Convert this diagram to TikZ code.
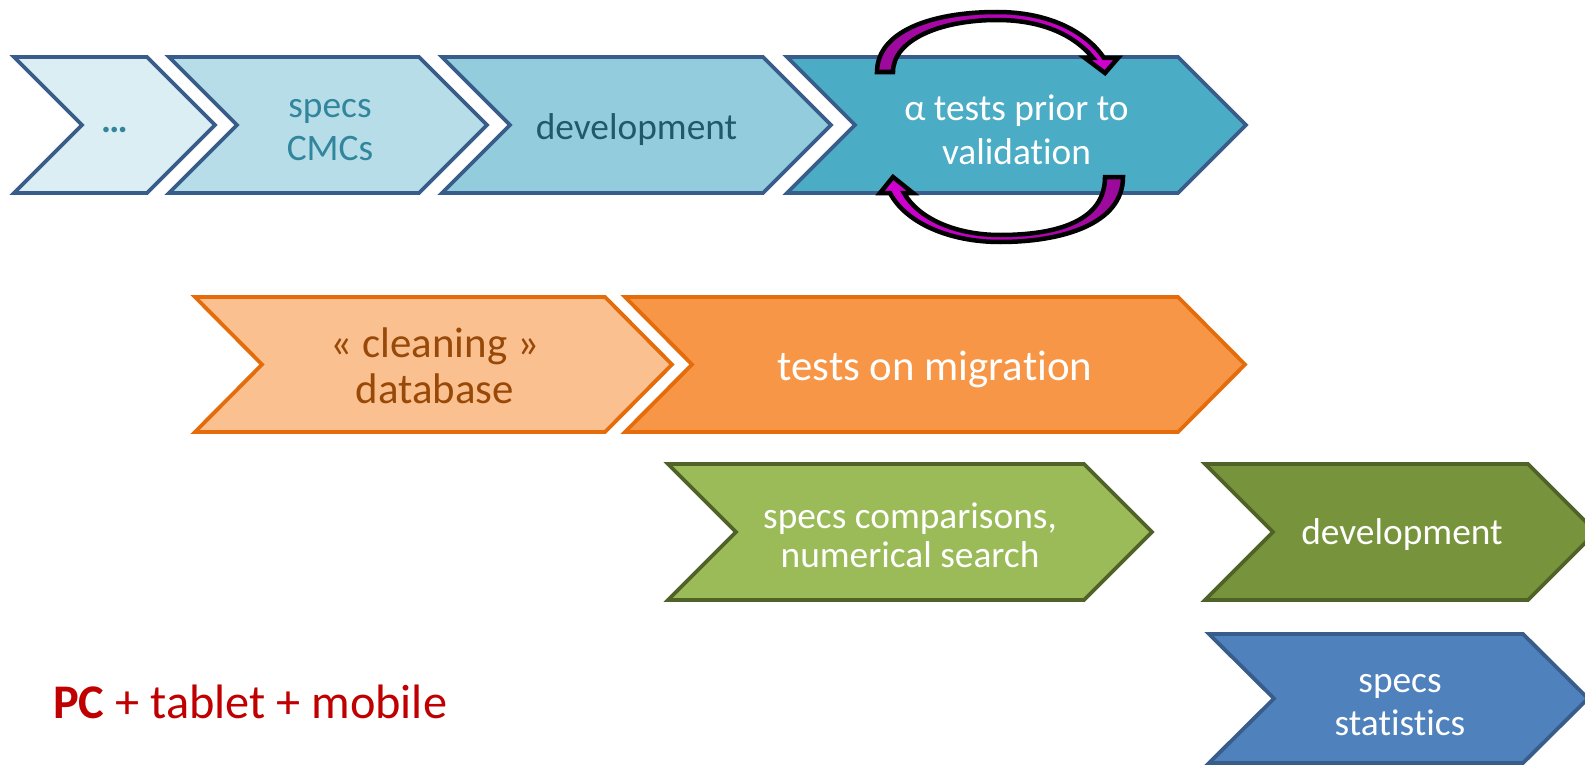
\documentclass[tikz,border=0pt]{standalone}
\usepackage{fontspec}
\setmainfont[Ligatures={NoCommon}]{Carlito}
\definecolor{bordblue}{HTML}{385D8A}
\definecolor{c1fill}{HTML}{DAEEF3}
\definecolor{c2fill}{HTML}{B7DEE8}
\definecolor{c3fill}{HTML}{93CDDD}
\definecolor{c4fill}{HTML}{4BACC6}
\definecolor{tealtext}{HTML}{31859C}
\definecolor{darkteal}{HTML}{215968}
\definecolor{ordraw}{HTML}{E46C0A}
\definecolor{or1fill}{HTML}{FAC090}
\definecolor{or2fill}{HTML}{F79646}
\definecolor{brown}{HTML}{984807}
\definecolor{grdraw}{HTML}{4F6228}
\definecolor{gr1fill}{HTML}{9BBB59}
\definecolor{gr2fill}{HTML}{77933C}
\definecolor{blfill}{HTML}{4F81BD}
\definecolor{pcred}{HTML}{C00000}
\definecolor{magdark}{HTML}{9A0A9A}
\definecolor{maglight}{HTML}{D200D2}
\newcommand{\chevshape}[6]{%
  \draw[#1] (#2,#4) -- (#3,#4) -- ({#3+#6},{(#4+#5)/2}) -- (#3,#5) -- (#2,#5) -- ({#2+#6},{(#4+#5)/2}) -- cycle;}
\begin{document}
\begin{tikzpicture}[x=1bp,y=-1bp,
  chev/.style={line width=3.8bp, line join=miter},
  bluechev/.style={chev, draw=bordblue},
  orchev/.style={chev, draw=ordraw},
  grchev/.style={chev, draw=grdraw},
  lbl/.style={inner sep=0pt, align=center, font=\fontsize{37.5}{44}\selectfont},
  biglbl/.style={inner sep=0pt, align=center, font=\fontsize{43}{46}\selectfont},
  looparrow/.style={draw=black, line width=4.5bp, line join=miter}]
\clip (0,0) rectangle (1585,768);
\fill[white] (0,0) rectangle (1585,768);
% row 1
\chevshape{bluechev, fill=c1fill}{14}{147}{57}{193}{68}
\chevshape{bluechev, fill=c2fill}{169}{419}{57}{193}{68}
\chevshape{bluechev, fill=c3fill}{442}{763}{57}{193}{68}
\chevshape{bluechev, fill=c4fill}{787}{1178}{57}{193}{68}
\node[lbl, text=tealtext] (dots) at (114.5,130) {\textbf{…}};
\node[lbl, text=tealtext] (cmc) at (330,130) {specs\\CMCs};
\node[lbl, text=darkteal] (dev1) at (636.5,130) {development};
\node[lbl, text=white] (alpha) at (1016.5,130) {α tests prior to\\validation};
% row 2
\chevshape{orchev, fill=or1fill}{195}{605}{297}{432}{67}
\chevshape{orchev, fill=or2fill}{625}{1178}{297}{432}{67}
\node[biglbl, text=brown] (clean) at (435,366) {« cleaning »\\database};
\node[biglbl, text=white] (mig) at (935,369) {tests on migration};
% row 3
\chevshape{grchev, fill=gr1fill}{668}{1084}{464}{600}{68}
\chevshape{grchev, fill=gr2fill}{1205}{1528}{464}{600}{68}
\node[lbl, text=white, font=\fontsize{37.5}{39}\selectfont] (comp) at (910,535) {specs comparisons,\\numerical search};
\node[lbl, text=white] (dev2) at (1402,535) {development};
% row 4
\chevshape{bluechev, fill=blfill}{1209}{1523}{634}{763}{65}
\node[lbl, text=white] (stat) at (1400,705) {specs\\statistics};
% label
\node[inner sep=0pt, anchor=west, text=pcred, font=\fontsize{48.5}{56}\selectfont] (pc) at (53,702) {\textbf{PC} + tablet + mobile};
% loop arrows
\draw[looparrow, left color=magdark, right color=maglight]
  (877,72) .. controls (877,32) and (930,12) .. (997,12)
  .. controls (1052,12) and (1088,34) .. (1104,58)
  -- (1118,58) -- (1105,73) -- (1085,58) -- (1093,58)
  .. controls (1076,37) and (1045,20) .. (997,20)
  .. controls (940,20) and (893,40) .. (893,72) -- cycle;
\draw[looparrow, left color=maglight, right color=magdark]
  (1123,177) .. controls (1123,224) and (1062,242) .. (1000,242)
  .. controls (948,242) and (905,222) .. (890,193)
  -- (880,193) -- (893,177) -- (913,193) -- (904,193)
  .. controls (918,218) and (955,235) .. (1000,235)
  .. controls (1055,235) and (1105,222) .. (1105,177) -- cycle;
\end{tikzpicture}
\end{document}
